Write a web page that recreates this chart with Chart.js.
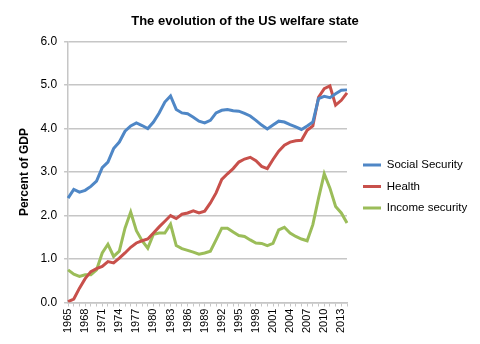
<!DOCTYPE html>
<html>
<head>
<meta charset="utf-8">
<script src="https://cdn.jsdelivr.net/npm/chart.js@4/dist/chart.umd.min.js"></script>
<style>
  html, body { margin: 0; padding: 0; background: #fff; }
  #wrap { width: 480px; height: 344px; }
</style>
</head>
<body>
<div id="wrap"><canvas id="welfareChart"></canvas></div>
<script>
// Years on the category axis
const years = [];
for (let y = 1965; y <= 2014; y++) years.push(String(y));

// Percent of GDP
const socialSecurity = [
  2.40, 2.60, 2.54, 2.58, 2.67, 2.79, 3.10, 3.23, 3.54, 3.69,
  3.94, 4.06, 4.13, 4.07, 4.00, 4.15, 4.36, 4.61, 4.75, 4.44,
  4.36, 4.34, 4.26, 4.17, 4.13, 4.19, 4.36, 4.42, 4.44, 4.41,
  4.40, 4.35, 4.29, 4.19, 4.08, 3.99, 4.08, 4.17, 4.15, 4.09,
  4.04, 3.98, 4.06, 4.15, 4.69, 4.74, 4.71, 4.80, 4.88, 4.89
];
const health = [
  0.02, 0.08, 0.33, 0.55, 0.71, 0.78, 0.83, 0.94, 0.91, 1.02,
  1.14, 1.27, 1.37, 1.42, 1.46, 1.60, 1.74, 1.87, 2.00, 1.93,
  2.03, 2.06, 2.11, 2.06, 2.10, 2.29, 2.52, 2.83, 2.96, 3.08,
  3.23, 3.30, 3.34, 3.26, 3.13, 3.08, 3.29, 3.48, 3.62, 3.69,
  3.72, 3.73, 3.96, 4.06, 4.72, 4.92, 4.98, 4.54, 4.65, 4.82
];
const incomeSecurity = [
  0.75, 0.65, 0.60, 0.64, 0.64, 0.75, 1.14, 1.34, 1.06, 1.18,
  1.71, 2.08, 1.65, 1.42, 1.25, 1.57, 1.60, 1.60, 1.80, 1.31,
  1.24, 1.20, 1.16, 1.11, 1.14, 1.18, 1.44, 1.71, 1.71, 1.62,
  1.54, 1.52, 1.44, 1.37, 1.36, 1.31, 1.36, 1.67, 1.73, 1.60,
  1.52, 1.46, 1.42, 1.79, 2.40, 2.96, 2.63, 2.21, 2.06, 1.83
];
const yTicks = [0, 1, 2, 3, 4, 5, 6];

const FONT = "'Liberation Sans', Arial, sans-serif";
const GRID = "#c6c6c6";

const ctx = document.getElementById("welfareChart").getContext("2d");

const makeSet = (label, data, color) => ({
  label: label,
  data: data,
  borderColor: color,
  backgroundColor: color,
  borderWidth: 3,
  pointRadius: 0,
  tension: 0,
  fill: false,
});

// leave a wider gap between the plot and the legend, and sit it a bit lower
const legendGap = {
  id: "legendGap",
  afterInit(chart) {
    const legend = chart.legend;
    const fit = legend.fit;
    legend.fit = function () {
      fit.call(this);
      this.width += 12;
    };
  },
  afterLayout(chart) {
    chart.legend.left += 6;
    chart.legend.top += 18;
    chart.legend.bottom += 18;
  },
};

new Chart(ctx, {
  type: "line",
  data: {
    labels: years,
    datasets: [
      makeSet("Social Security", socialSecurity, "#4f87c6"),
      makeSet("Health", health, "#c8504b"),
      makeSet("Income security", incomeSecurity, "#9bbd59"),
    ],
  },
  plugins: [legendGap],
  options: {
    responsive: true,
    maintainAspectRatio: false,
    animation: false,
    layout: { padding: { left: 17, right: 7, top: 2, bottom: 9 } },
    plugins: {
      title: {
        display: true,
        text: "The evolution of the US welfare state",
        color: "#000",
        font: { family: FONT, size: 13, weight: "bold" },
        padding: { top: 12, bottom: 12 },
      },
      legend: {
        position: "right",
        labels: {
          usePointStyle: true,
          pointStyle: "line",
          pointStyleWidth: 18,
          boxHeight: 12,
          color: "#000",
          padding: 10,
          font: { family: FONT, size: 11.5 },
        },
      },
      tooltip: { enabled: false },
    },
    scales: {
      x: {
        offset: false,
        grid: {
          display: true,
          drawOnChartArea: false,
          drawTicks: true,
          tickLength: 4,
          color: GRID,
        },
        border: { color: GRID, width: 1.5 },
        ticks: {
          autoSkip: false,
          maxRotation: 90,
          minRotation: 90,
          color: "#000",
          padding: 2,
          font: { family: FONT, size: 11 },
          callback: function (val, i) {
            return i % 3 === 0 ? this.getLabelForValue(val) : "";
          },
        },
      },
      y: {
        min: yTicks[0],
        max: yTicks[yTicks.length - 1],
        afterBuildTicks: (axis) => {
          axis.ticks = yTicks.map((v) => ({ value: v }));
        },
        grid: { color: GRID, lineWidth: 1.5, tickLength: 4 },
        border: { color: GRID, width: 1.5 },
        ticks: {
          color: "#000",
          padding: 7,
          font: { family: FONT, size: 12 },
          callback: (v) => Number(v).toFixed(1),
        },
        title: {
          display: true,
          text: "Percent of GDP",
          color: "#000",
          font: { family: FONT, size: 12, weight: "bold" },
          padding: { top: 0, bottom: 2 },
        },
      },
    },
  },
});
</script>
</body>
</html>
